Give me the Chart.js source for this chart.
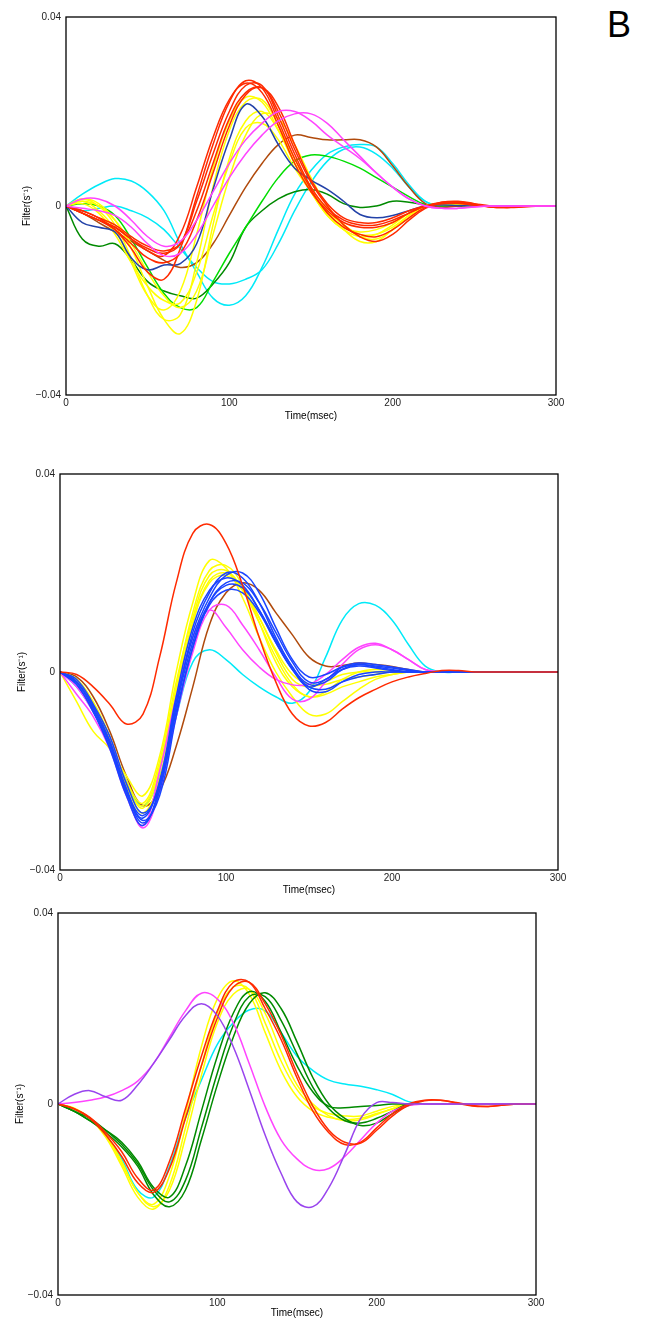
<!DOCTYPE html>
<html>
<head>
<meta charset="utf-8">
<script src="https://cdn.jsdelivr.net/npm/chart.js@4/dist/chart.umd.min.js"></script>
<style>
  html, body { margin:0; padding:0; background:#fff; }
  body { width:651px; height:1323px; position:relative; overflow:hidden; }
  canvas { position:absolute; left:0; }
  #lbl { position:absolute; left:607px; top:7px; font-family:'Liberation Sans', Arial, sans-serif; font-size:36px; line-height:1; color:#000; }
</style>
</head>
<body>
<div id="lbl">B</div>
<canvas id="c1" width="651" height="440" style="top:0px"></canvas>
<canvas id="c2" width="651" height="460" style="top:440px"></canvas>
<canvas id="c3" width="651" height="423" style="top:900px"></canvas>
<script>
// ---------- shared axes data ----------
const time = [0,10,20,30,40,50,60,70,80,90,100,110,120,130,140,150,160,170,180,190,200,210,220,230,240,250,260,270,280,290,300];
const xTickValues = [0,100,200,300];
const xTickLabels = ['0','100','200','300'];
const yTickValues = [-0.04,0,0.04];
const yTickLabels = ['\u22120.04','0','0.04'];
const xTitle = 'Time(msec)';
const yTitle = 'Filter(s\u207B\u00B9)';
const SCALE = 1000; // series below are stored in units of 0.001

// ---------- panel 1 series (x 0.001) ----------
const p1_red1 = [0,-1,-2.5,-5,-9,-14,-15.5,-9,2,13,22,26.5,25,18,10,3.5,-1.5,-4.5,-6,-6.5,-5,-2.5,-0.3,0.8,1,0.5,0,-0.3,-0.2,0,0];
const p1_red2 = [0,-1.5,-3,-4.5,-7,-9.5,-10.5,-6,4,14.5,22.5,26,24,17,9,3,-1,-3.5,-4.5,-4.5,-3.5,-1.5,0,0.8,0.8,0.3,-0.2,-0.3,0,0,0];
const p1_red3 = [0,-1.5,-3,-4.5,-7,-9,-10,-8,1,11,20,25.5,25.5,19,11,4,-0.5,-3,-4,-4,-3,-1.5,0,0.6,0.6,0.2,-0.2,-0.2,0,0,0];
const p1_red4 = [0,-1,-2.5,-4,-6.5,-8.5,-9.5,-8,-1,9,18.5,24,25,20,12,5,0,-4,-6.5,-7.5,-6,-3,-0.5,0.7,0.9,0.4,-0.2,-0.3,-0.1,0,0];
const p1_red5 = [0,-1.5,-3,-5,-8,-11,-12,-10,-3,7,17,23.5,25,21,13,5.5,0.5,-2.5,-3.5,-3.5,-2.5,-1,0,0.5,0.6,0.2,-0.1,-0.2,0,0,0];
const p1_yel1 = [0,1.5,0.5,-3,-9,-17,-24,-27,-20,-4,10,18,20,16,9,3,-2,-5,-7.5,-7.5,-5,-2.5,0,0.5,0.3,0,0,0,0,0,0];
const p1_yel2 = [0,1.5,0,-4,-11,-19,-24,-23,-12,4,16,22,22.5,17,10,4,-1,-4,-6,-6,-4.5,-2,0,0.3,0.2,0,0,0,0,0,0];
const p1_yel3 = [0,1,-1,-5,-12,-19,-22,-18,-6,8,18,23,22,16,9,3,-2,-5,-6.5,-6,-4,-1.5,0,0.3,0.2,0,0,0,0,0,0];
const p1_yel4 = [0,0.5,-1.5,-6,-12,-17,-20,-20.5,-14,-2,9,16.5,17.5,14,8,3,-1.5,-4.5,-5.5,-5,-3.5,-1.5,0,0.3,0.2,0,0,0,0,0,0];
const p1_yel5 = [0,1,0,-3,-8,-14,-19,-21.5,-18,-6,6,15,19.5,18.5,13,6,0,-4,-6.5,-7,-5,-2,0,0.3,0.2,0,0,0,0,0,0];
const p1_blue = [0,-3.5,-4.5,-5.5,-11,-13.5,-12.5,-12.2,-8,3.5,14,21.5,19,13,8,5.5,3.5,1,-1.8,-2.5,-2,-1,0,0.2,0.1,0,0,0,0,0,0];
const p1_mag1 = [0,1.5,1.5,0,-3,-6.5,-8.5,-7.5,-3,3,9,14,17.5,20,20,18,15,12.5,10,7,4,1.5,0,-0.5,-0.5,-0.2,0,0,0,0,0];
const p1_mag2 = [0,-0.5,-1,-2,-4.5,-8,-10.5,-10,-6,0,6,11,15,18,19.5,19.5,17.5,14,10.5,7,4,1.5,0,-0.5,-0.5,-0.2,0,0,0,0,0];
const p1_brown = [0,-1.5,-3.5,-5.5,-7.5,-9.5,-11.5,-13,-12,-8,-2,4,9,13,15,14.5,14,14,14,12.5,8.5,4,0.5,-0.3,0,0,0,0,0,0,0];
const p1_lgreen = [0,0.5,0,-2,-7,-13,-18.5,-21.5,-21.5,-16,-10,-4.5,1,6,9.5,10.8,10.5,9.5,8,6,4,2,0.3,0,0,0,0,0,0,0,0];
const p1_dgreen = [0,-7,-8.5,-8,-11.5,-16,-18,-19,-19.5,-16.5,-12,-4.5,-1,1.5,3,3.5,2.5,0.5,-0.3,0,1,0.8,0.2,0,0,0,0,0,0,0,0];
const p1_cyan1 = [0,2.5,4.5,5.8,5.3,3,-1,-8,-14,-19.5,-21,-19,-13,-5,2.5,7.5,11,12.5,13,12.5,9,4.5,1,0,0,0,0,0,0,0,0];
const p1_cyan2 = [0,-1,-0.5,0,-1,-2.5,-5,-9,-13,-16,-16.5,-15.5,-13.5,-8,-1,5,9.5,12,12.5,11,8,4,1,0,0,0,0,0,0,0,0];

// ---------- panel 2 series (x 0.001) ----------
const p2_red = [0,-0.5,-3,-6.5,-10.5,-8.5,3,18,28,29.8,26,17.5,7,-2,-8.5,-10.9,-10.2,-7.5,-5.2,-3.5,-2,-1,-0.3,0.3,0.3,0,0,0,0,0,0];
const p2_blue1 = [0,-2,-7,-14,-24,-30.5,-24,-7,8,16,20,19,14,7,1,-2.5,-2,0.5,1.5,1,0.5,0,0,0,0,0,0,0,0,0,0];
const p2_blue2 = [0,-2.5,-8,-15,-24.5,-29.5,-22,-5,9,16.5,19,17.5,12.5,6,0.5,-3,-1.5,0.5,1.2,0.8,0.3,0,0,0,0,0,0,0,0,0,0];
const p2_blue3 = [0,-2,-7.5,-14.5,-24,-29,-22.5,-7,6,14,17.5,17,12.5,6.5,1,-3.5,-4,-2,-0.5,0,0,0,0,0,0,0,0,0,0,0,0];
const p2_blue4 = [0,-1.5,-6.5,-13,-22.5,-28.5,-23,-8,5,14,18,18,14,8,2,-2,-1.5,1,1.8,1.5,1,0.5,0,0,0,0,0,0,0,0,0];
const p2_blue5 = [0,-2,-7,-14,-23.5,-30,-25,-9,5,13.5,16.5,16,12,6,0.5,-3,-3.5,-2,-1,-0.5,0,0,0,0,0,0,0,0,0,0,0];
const p2_blue6 = [0,-2.5,-8,-15.5,-25,-31,-23,-6,7,15,19.5,20,16,9,2.5,-1,-0.5,1,1.5,1.2,0.8,0.3,0,0,0,0,0,0,0,0,0];
const p2_yel1 = [0,-6,-12,-15.5,-21,-25,-17,0,14,22.5,21,15,7,0,-5,-8.5,-8.5,-6,-3.5,-1.5,-0.5,0,0,0,0,0,0,0,0,0,0];
const p2_yel2 = [0,-1.5,-6,-13,-22,-26.5,-18,-2,11,19.5,20.5,16.5,10,3,-2.5,-5,-4,-1.5,0,0.5,0.3,0,0,0,0,0,0,0,0,0,0];
const p2_yel3 = [0,-1.5,-6.5,-13.5,-22.5,-27.5,-20,-4,10,18.5,20,17,11,4,-1.5,-3,-2,-0.5,0,0,0,0,0,0,0,0,0,0,0,0,0];
const p2_yel4 = [0,-1.5,-7,-14,-23,-28.5,-21.5,-5,10,18,19.5,16.5,11,4.5,-0.5,-2.5,-2.5,-1.5,-1,-0.5,0,0,0,0,0,0,0,0,0,0,0];
const p2_yel5 = [0,-2,-7,-14,-23,-27,-19,-3,12,20.5,21.5,17.5,10,2,-3,-5,-4.5,-3,-2,-1,-0.5,0,0,0,0,0,0,0,0,0,0];
const p2_mag1 = [0,-4.5,-9,-15.5,-25,-31,-20,-5,7,12.5,9,4.5,1,-1.5,-2.6,-2.5,-0.5,2.5,5,5.8,4.5,2.5,0.5,0,0,0,0,0,0,0,0];
const p2_mag2 = [0,-3,-8,-14,-24,-31.5,-24,-9,4,12.5,13.5,9.5,4.5,-1,-5.5,-5.5,-2,1.5,4.5,5.5,4.5,2.5,0.5,0,0,0,0,0,0,0,0];
const p2_brown = [0,-1,-5,-12,-21,-27,-24,-15,-3,9.5,16,18,16.5,12,7.5,3,1.2,1.3,1.8,1.5,1.1,0.5,0,0,0,0,0,0,0,0,0];
const p2_cyan = [0,-3,-8,-14,-22,-27,-21,-9,2,4.5,2.5,-0.5,-3,-5,-6.3,-4,3,10.5,13.8,13.5,10.5,5.5,1.2,0,0,0,0,0,0,0,0];

// ---------- panel 3 series (x 0.001) ----------
const p3_purple = [0,2,2.8,1.5,0.8,4,8.5,13.5,18.5,21,18.5,12,3,-6.5,-14.5,-20.5,-21.5,-17.5,-10.5,-3,0.3,0.3,0,0,0,0,0,0,0,0,0];
const p3_red1 = [0,-1,-2.8,-6,-10,-15.5,-18,-12,-1,10,19.5,25.5,25.5,20,13.5,5.5,-1.5,-6,-8.5,-8,-5,-2,0,0.8,0.8,0.2,-0.4,-0.5,-0.2,0,0];
const p3_red2 = [0,-1,-3,-6.5,-11,-16.5,-18.5,-13.5,-3,8,18,24.5,25.5,21,14.5,6.5,-0.5,-5.5,-8,-8.2,-5.5,-2.5,-0.3,0.7,0.8,0.3,-0.3,-0.5,-0.2,0,0];
const p3_mag = [0,0.3,0.8,1.5,2.8,4.8,8.5,14,19.5,23.2,22,17,8.5,-0.5,-7.5,-11.5,-13.7,-13.5,-11,-7.5,-4,-1.5,-0.3,0,0,0,0,0,0,0,0];
const p3_green1 = [0,-1.5,-3.5,-5.5,-8,-12,-17.5,-19.5,-13,-1.5,10,19,23.5,21.5,15,8,2.5,-0.5,-0.8,-0.5,-0.3,0,0,0,0,0,0,0,0,0,0];
const p3_green2 = [0,-1.5,-3.5,-6,-9,-13,-19,-21.5,-18,-7.5,4,14,21,23.3,20,13,5.5,0,-3,-4.5,-4,-2,-0.3,0,0,0,0,0,0,0,0];
const p3_green3 = [0,-1.5,-3,-5.5,-8.5,-12.5,-18,-20.5,-16,-5,6.5,16.5,22.5,22.5,17.5,10.5,3.5,-1,-3.5,-4,-3,-1.5,0,0,0,0,0,0,0,0,0];
const p3_yel1 = [0,-1,-3,-6.5,-12,-18.5,-21,-15,-2,12,22,25.8,23,15,7,1.5,-1.5,-2.8,-3.3,-3,-2,-1,0,0,0,0,0,0,0,0,0];
const p3_yel2 = [0,-1,-3,-7,-13,-19.5,-22,-17,-5,8,19,24.5,24,17,9,3,-0.5,-2,-2.5,-2.5,-1.5,-0.5,0,0,0,0,0,0,0,0,0];
const p3_yel3 = [0,-0.8,-3,-6.5,-12.5,-18.5,-21.5,-18,-7,6,17,23,24,19,11,4,0,-2.5,-3.5,-3.3,-2.2,-1,0,0,0,0,0,0,0,0,0];
const p3_cyan = [0,-1,-3,-6.5,-11.5,-18,-19.5,-13,-3,5,12.5,17,19.7,19.5,15,10,7,5,4.2,3.7,3,2,0.5,0,0,0,0,0,0,0,0];

// ---------- colours ----------
const C = {
  red:'#ff2a00', yellow:'#ffff00', navy:'#2342a8', blue:'#1a44ff', magenta:'#ff44ff',
  brown:'#b04a0c', lgreen:'#00dd00', dgreen:'#008a00', cyan:'#00eaf8', purple:'#9944ee'
};

// first listed = drawn on top
const panel1 = [
  [p1_mag1,C.magenta],[p1_mag2,C.magenta],
  [p1_red1,C.red],[p1_red2,C.red],[p1_red3,C.red],[p1_red4,C.red],[p1_red5,C.red],
  [p1_blue,C.navy],
  [p1_yel1,C.yellow],[p1_yel2,C.yellow],[p1_yel3,C.yellow],[p1_yel4,C.yellow],[p1_yel5,C.yellow],
  [p1_brown,C.brown],[p1_lgreen,C.lgreen],[p1_dgreen,C.dgreen],
  [p1_cyan1,C.cyan],[p1_cyan2,C.cyan]
];
const panel2 = [
  [p2_red,C.red],
  [p2_blue1,C.blue],[p2_blue2,C.blue],[p2_blue3,C.blue],[p2_blue4,C.blue],[p2_blue5,C.blue],[p2_blue6,C.blue],
  [p2_mag1,C.magenta],[p2_mag2,C.magenta],
  [p2_yel1,C.yellow],[p2_yel2,C.yellow],[p2_yel3,C.yellow],[p2_yel4,C.yellow],[p2_yel5,C.yellow],
  [p2_brown,C.brown],[p2_cyan,C.cyan]
];
const panel3 = [
  [p3_purple,C.purple],
  [p3_red1,C.red],[p3_red2,C.red],
  [p3_mag,C.magenta],
  [p3_green1,C.dgreen],[p3_green2,C.dgreen],[p3_green3,C.dgreen],
  [p3_yel1,C.yellow],[p3_yel2,C.yellow],[p3_yel3,C.yellow],
  [p3_cyan,C.cyan]
];

const FONT = "'Liberation Sans', Arial, Helvetica, sans-serif";

const boxPlugin = {
  id:'box',
  afterDraw(chart){
    const {ctx, chartArea:a} = chart;
    ctx.save();
    ctx.strokeStyle = '#000';
    ctx.lineWidth = 1.3;
    ctx.strokeRect(a.left, a.top, a.right - a.left, a.bottom - a.top);
    ctx.restore();
  }
};

function makeChart(id, series, L) {
  const datasets = series.map(([arr, col]) => ({
    data: time.map((t, i) => ({x: t, y: arr[i] / SCALE})),
    borderColor: col,
    borderWidth: 1.5,
    pointRadius: 0,
    fill: false,
    tension: 0.4
  }));
  return new Chart(document.getElementById(id), {
    type: 'line',
    data: { datasets },
    options: {
      responsive: false,
      animation: false,
      events: [],
      layout: { padding: { left: 0, top: L.top, right: L.right, bottom: 0 } },
      plugins: { legend: { display: false }, tooltip: { enabled: false } },
      scales: {
        x: {
          type: 'linear', min: 0, max: 300,
          grid: { display: false, drawTicks: false },
          border: { display: false },
          afterBuildTicks: s => { s.ticks = xTickValues.map(v => ({value: v})); },
          afterFit: s => { s.height = L.xh; },
          ticks: { padding: 2, maxRotation: 0, autoSkip: false, color: '#222',
                   font: { family: FONT, size: 10 },
                   callback: v => xTickLabels[xTickValues.indexOf(v)] },
          title: { display: true, text: xTitle, color: '#000',
                   font: { family: FONT, size: 10 }, padding: { top: 0, bottom: L.xtp } }
        },
        y: {
          type: 'linear', min: -0.04, max: 0.04,
          grid: { display: false, drawTicks: false },
          border: { display: false },
          afterBuildTicks: s => { s.ticks = yTickValues.map(v => ({value: v})); },
          afterFit: s => { s.width = L.yw; },
          ticks: { padding: 5, autoSkip: false, color: '#222',
                   font: { family: FONT, size: 10 },
                   callback: v => yTickLabels[yTickValues.indexOf(v)] },
          title: { display: true, text: yTitle, color: '#000',
                   font: { family: FONT, size: 10 }, padding: { top: L.ytp, bottom: 0 } }
        }
      }
    },
    plugins: [boxPlugin]
  });
}

makeChart('c1', panel1, { top: 17, right: 95, yw: 66, xh: 45, xtp: 18, ytp: 21 });
makeChart('c2', panel2, { top: 34, right: 93, yw: 60, xh: 30, xtp: 4, ytp: 16 });
makeChart('c3', panel3, { top: 13, right: 115, yw: 58, xh: 28, xtp: 4, ytp: 14 });
</script>
</body>
</html>
